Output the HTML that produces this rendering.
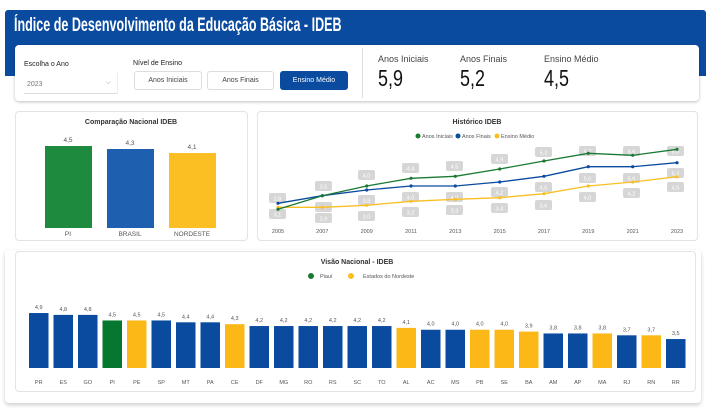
<!DOCTYPE html>
<html><head><meta charset="utf-8"><style>
*{margin:0;padding:0;box-sizing:border-box}
body{width:709px;height:410px;background:#fff;font-family:"Liberation Sans",sans-serif;position:relative;overflow:hidden}
.a{position:absolute}
.k{transform-origin:0 0;transform:scaleX(0.78);font-size:23px;color:#111}
</style></head><body>
<div class="a" style="left:5px;top:10px;width:701px;height:66px;background:#0a4ba0;border-radius:3px 3px 0 0"></div>
<div class="a" style="left:14px;top:15px;color:#fff;font-size:19px;font-weight:bold;white-space:nowrap;transform-origin:0 0;transform:scaleX(0.66)">Índice de Desenvolvimento da Educação Básica - IDEB</div>
<div class="a" style="left:15px;top:45px;width:684px;height:56px;background:#fff;border-radius:4px;box-shadow:0 1px 3px rgba(0,0,0,.25)"></div>
<div class="a" style="left:24px;top:61px;font-size:7px;color:#222">Escolha o Ano</div>
<div class="a" style="left:24px;top:73px;width:94px;height:21px;border-bottom:1px solid #ddd;border-right:1px solid #eee;font-size:7px;color:#777;padding:8px 3px">2023<span style="position:absolute;right:6px;top:6px;color:#999">⌵</span></div>
<div class="a" style="left:133px;top:60px;font-size:7px;color:#222">Nível de Ensino</div>
<div class="a" style="left:134px;top:71px;width:68px;height:19px;border:1px solid #ddd;border-radius:3px;font-size:7px;color:#444;text-align:center;line-height:17px">Anos Iniciais</div>
<div class="a" style="left:207px;top:71px;width:67px;height:19px;border:1px solid #ddd;border-radius:3px;font-size:7px;color:#444;text-align:center;line-height:17px">Anos Finais</div>
<div class="a" style="left:280px;top:71px;width:68px;height:19px;background:#0a4ba0;border-radius:3px;font-size:7px;color:#fff;text-align:center;line-height:19px">Ensino Médio</div>
<div class="a" style="left:362px;top:48px;width:1px;height:50px;background:#ddd"></div>
<div class="a" style="left:378px;top:54px;font-size:9px;color:#444">Anos Iniciais</div>
<div class="a" style="left:460px;top:54px;font-size:9px;color:#444">Anos Finais</div>
<div class="a" style="left:544px;top:54px;font-size:9px;color:#444">Ensino Médio</div>
<div class="a k" style="left:378px;top:65px">5,9</div>
<div class="a k" style="left:460px;top:65px">5,2</div>
<div class="a k" style="left:544px;top:65px">4,5</div>

<div class="a" style="left:15px;top:111px;width:233px;height:130px;border:1px solid #e3e3e3;border-radius:4px"></div>
<div class="a" style="left:257px;top:111px;width:441px;height:130px;border:1px solid #e3e3e3;border-radius:4px"></div>
<div class="a" style="left:5px;top:250px;width:696px;height:153px;border-radius:4px;box-shadow:0 2px 4px rgba(0,0,0,.2)"></div>
<div class="a" style="left:15px;top:251px;width:681px;height:141px;border:1px solid #e3e3e3;border-radius:4px"></div>

<svg class="a" style="left:0;top:0" width="709" height="410" font-family="Liberation Sans, sans-serif">
<text x="131" y="124" font-size="7" text-anchor="middle" fill="#333" font-weight="bold">Comparação Nacional IDEB</text>
<rect x="45" y="146" width="47" height="82" fill="#1e8a3e"/>
<rect x="107" y="149" width="47" height="79" fill="#1f5fb0"/>
<rect x="169" y="153" width="47" height="75" fill="#fbbf24"/>
<g font-size="6.5" fill="#555" text-anchor="middle">
<text x="68" y="142">4,5</text><text x="130" y="145">4,3</text><text x="192" y="149">4,1</text>
<text x="68" y="236">PI</text><text x="130" y="236">BRASIL</text><text x="192" y="236">NORDESTE</text>
</g>
<text x="477" y="124" font-size="7" text-anchor="middle" fill="#333" font-weight="bold">Histórico IDEB</text>
<g font-size="5.5" fill="#555">
<circle cx="418" cy="136" r="2.5" fill="#1a7a34"/><text x="422" y="138">Anos Iniciais</text>
<circle cx="458" cy="136" r="2.5" fill="#0a4ba0"/><text x="462" y="138">Anos Finais</text>
<circle cx="497" cy="136" r="2.5" fill="#fbbf24"/><text x="501" y="138">Ensino Médio</text>
</g>
<g fill="#d6d6d6">
<rect x="269" y="193" width="17" height="10" rx="2"/><rect x="269" y="209" width="17" height="10" rx="2"/>
<rect x="315" y="181" width="17" height="10" rx="2"/><rect x="315" y="202" width="17" height="10" rx="2"/><rect x="315" y="213" width="17" height="10" rx="2"/>
<rect x="358" y="170" width="17" height="10" rx="2"/><rect x="358" y="195" width="17" height="10" rx="2"/><rect x="358" y="211" width="17" height="10" rx="2"/>
<rect x="402" y="163" width="17" height="10" rx="2"/><rect x="402" y="192" width="17" height="10" rx="2"/><rect x="402" y="207" width="17" height="10" rx="2"/>
<rect x="446" y="161" width="17" height="10" rx="2"/><rect x="446" y="192" width="17" height="10" rx="2"/><rect x="446" y="205" width="17" height="10" rx="2"/>
<rect x="491" y="154" width="17" height="10" rx="2"/><rect x="491" y="187" width="17" height="10" rx="2"/><rect x="491" y="203" width="17" height="10" rx="2"/>
<rect x="535" y="147" width="17" height="10" rx="2"/><rect x="535" y="182" width="17" height="10" rx="2"/><rect x="535" y="200" width="17" height="10" rx="2"/>
<rect x="579" y="146" width="17" height="10" rx="2"/><rect x="579" y="173" width="17" height="10" rx="2"/><rect x="579" y="192" width="17" height="10" rx="2"/>
<rect x="623" y="146" width="17" height="10" rx="2"/><rect x="623" y="173" width="17" height="10" rx="2"/><rect x="623" y="188" width="17" height="10" rx="2"/>
<rect x="667" y="146" width="17" height="10" rx="2"/><rect x="667" y="168" width="17" height="10" rx="2"/><rect x="667" y="182" width="17" height="10" rx="2"/>
</g>
<g font-size="5.5" fill="#fff" text-anchor="middle">
<text x="277.5" y="200.5">2,8</text><text x="277.5" y="216.5">3,1</text>
<text x="323.5" y="188.5">3,5</text><text x="323.5" y="220.5">2,9</text>
<text x="366.5" y="177.5">4,0</text><text x="366.5" y="202.5">3,8</text><text x="366.5" y="218.5">3,0</text>
<text x="410.5" y="170.5">4,4</text><text x="410.5" y="199.5">4,0</text><text x="410.5" y="214.5">3,2</text>
<text x="454.5" y="168.5">4,5</text><text x="454.5" y="199.5">4,0</text><text x="454.5" y="212.5">3,3</text>
<text x="499.5" y="161.5">4,9</text><text x="499.5" y="194.5">4,2</text><text x="499.5" y="210.5">3,4</text>
<text x="543.5" y="154.5">5,3</text><text x="543.5" y="189.5">4,5</text><text x="543.5" y="207.5">3,6</text>
<text x="587.5" y="153.5">5,7</text><text x="587.5" y="180.5">5,0</text><text x="587.5" y="199.5">4,0</text>
<text x="631.5" y="153.5">5,6</text><text x="631.5" y="180.5">5,0</text><text x="631.5" y="195.5">4,2</text>
<text x="675.5" y="153.5">6,0</text><text x="675.5" y="175.5">5,2</text><text x="675.5" y="189.5">4,5</text>
</g>
<polyline fill="none" stroke="#fbbf24" stroke-width="1.3" points="278,207.3 322.3,207.3 366.7,205.3 411,201.3 455.3,199.3 499.7,197.7 544,193.7 588.3,186 632.7,182 677,176.7"/>
<polyline fill="none" stroke="#0a4ba0" stroke-width="1.3" points="278,203.3 322.3,195.7 366.7,190 411,186 455.3,186 499.7,182 544,176.3 588.3,166.7 632.7,166.7 677,162.7"/>
<polyline fill="none" stroke="#1a7a34" stroke-width="1.3" points="278,209.3 322.3,195.7 366.7,186 411,178.3 455.3,176.3 499.7,169 544,161 588.3,153.3 632.7,155.3 677,149.3"/>
<g fill="#fbbf24"><circle cx="278" cy="207.3" r="1.6"/><circle cx="322.3" cy="207.3" r="1.6"/><circle cx="366.7" cy="205.3" r="1.6"/><circle cx="411" cy="201.3" r="1.6"/><circle cx="455.3" cy="199.3" r="1.6"/><circle cx="499.7" cy="197.7" r="1.6"/><circle cx="544" cy="193.7" r="1.6"/><circle cx="588.3" cy="186" r="1.6"/><circle cx="632.7" cy="182" r="1.6"/><circle cx="677" cy="176.7" r="1.6"/></g>
<g fill="#0a4ba0"><circle cx="278" cy="203.3" r="1.6"/><circle cx="322.3" cy="195.7" r="1.6"/><circle cx="366.7" cy="190" r="1.6"/><circle cx="411" cy="186" r="1.6"/><circle cx="455.3" cy="186" r="1.6"/><circle cx="499.7" cy="182" r="1.6"/><circle cx="544" cy="176.3" r="1.6"/><circle cx="588.3" cy="166.7" r="1.6"/><circle cx="632.7" cy="166.7" r="1.6"/><circle cx="677" cy="162.7" r="1.6"/></g>
<g fill="#1a7a34"><circle cx="278" cy="209.3" r="1.6"/><circle cx="322.3" cy="195.7" r="1.6"/><circle cx="366.7" cy="186" r="1.6"/><circle cx="411" cy="178.3" r="1.6"/><circle cx="455.3" cy="176.3" r="1.6"/><circle cx="499.7" cy="169" r="1.6"/><circle cx="544" cy="161" r="1.6"/><circle cx="588.3" cy="153.3" r="1.6"/><circle cx="632.7" cy="155.3" r="1.6"/><circle cx="677" cy="149.3" r="1.6"/></g>
<g font-size="5.5" fill="#555" text-anchor="middle">
<text x="278" y="233">2005</text><text x="322.3" y="233">2007</text><text x="366.7" y="233">2009</text><text x="411" y="233">2011</text><text x="455.3" y="233">2013</text><text x="499.7" y="233">2015</text><text x="544" y="233">2017</text><text x="588.3" y="233">2019</text><text x="632.7" y="233">2021</text><text x="677" y="233">2023</text>
</g>
<text x="357" y="264" font-size="7" text-anchor="middle" fill="#333" font-weight="bold">Visão Nacional - IDEB</text>
<circle cx="311" cy="276" r="3" fill="#1a7a34"/><text x="320" y="278" font-size="5.5" fill="#555">Piauí</text>
<circle cx="351" cy="276" r="3" fill="#fbbf24"/><text x="363" y="278" font-size="5.5" fill="#555">Estados do Nordeste</text>
<g id="bars"></g>
</svg>
<script>
var d=[["PR",4.9,0],["ES",4.8,0],["GO",4.8,0],["PI",4.5,1],["PE",4.5,2],["SP",4.5,0],["MT",4.4,0],["PA",4.4,0],["CE",4.3,2],["DF",4.2,0],["MG",4.2,0],["RO",4.2,0],["RS",4.2,0],["SC",4.2,0],["TO",4.2,0],["AL",4.1,2],["AC",4.0,0],["MS",4.0,0],["PB",4.0,2],["SE",4.0,2],["BA",3.9,2],["AM",3.8,0],["AP",3.8,0],["MA",3.8,2],["RJ",3.7,0],["RN",3.7,2],["RR",3.5,0]];
var c=["#0a4ba0","#06772f","#fbb817"],s="";
d.forEach(function(e,i){var x=29+i*24.5,h=18.57*(e[1]-1.94),y=368-h;
s+='<rect x="'+x+'" y="'+y+'" width="19.5" height="'+h+'" fill="'+c[e[2]]+'"/>';
s+='<text x="'+(x+9.75)+'" y="'+(y-4)+'" font-size="5.5" fill="#555" text-anchor="middle">'+e[1].toFixed(1).replace(".",",")+'</text>';
s+='<text x="'+(x+9.75)+'" y="384" font-size="5.5" fill="#555" text-anchor="middle">'+e[0]+'</text>';});
document.getElementById("bars").innerHTML=s;
</script>
</body></html>
